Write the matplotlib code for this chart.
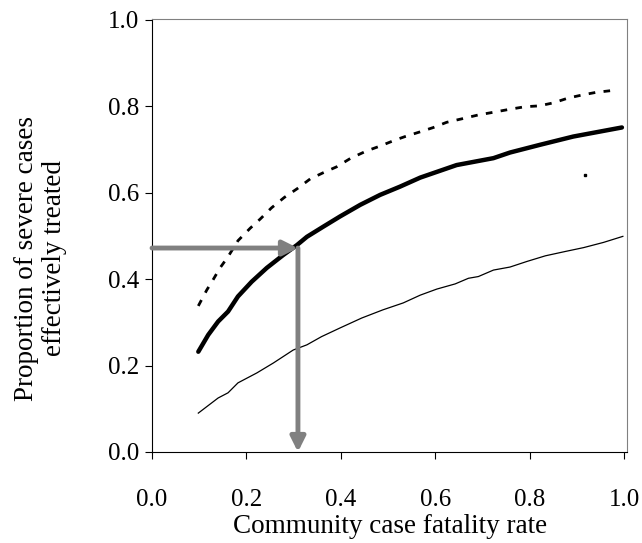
import matplotlib
matplotlib.use("Agg")
import matplotlib.pyplot as plt

plt.rcParams['font.family'] = ['Liberation Serif', 'DejaVu Serif']

# upper dashed curve
x_upper = [0.098, 0.116, 0.129, 0.144, 0.161, 0.182, 0.208, 0.229, 0.253, 0.280,
           0.307, 0.335, 0.362, 0.391, 0.421, 0.455, 0.483, 0.515, 0.536, 0.568,
           0.596, 0.624, 0.656, 0.691, 0.727, 0.762, 0.790, 0.820, 0.850, 0.881,
           0.910, 0.939, 0.970]
y_upper = [0.338, 0.375, 0.398, 0.426, 0.452, 0.489, 0.518, 0.539, 0.565, 0.589,
           0.609, 0.632, 0.646, 0.660, 0.680, 0.697, 0.708, 0.722, 0.730, 0.741,
           0.751, 0.763, 0.771, 0.780, 0.787, 0.794, 0.799, 0.801, 0.808, 0.819,
           0.826, 0.832, 0.836]

# middle thick curve
x_mid = [0.098, 0.119, 0.140, 0.161, 0.182, 0.211, 0.243, 0.278, 0.307, 0.328,
         0.362, 0.398, 0.441, 0.483, 0.525, 0.568, 0.645, 0.723, 0.758, 0.822,
         0.892, 0.995]
y_mid = [0.232, 0.271, 0.302, 0.325, 0.360, 0.394, 0.426, 0.456, 0.479, 0.498,
         0.521, 0.545, 0.572, 0.595, 0.614, 0.635, 0.664, 0.680, 0.693, 0.711,
         0.730, 0.751]

# lower thin curve
x_low = [0.098, 0.140, 0.161, 0.182, 0.222, 0.257, 0.299, 0.328, 0.359, 0.398,
         0.444, 0.489, 0.532, 0.568, 0.603, 0.642, 0.670, 0.691, 0.723, 0.758,
         0.794, 0.833, 0.875, 0.914, 0.956, 0.997]
y_low = [0.090, 0.125, 0.137, 0.160, 0.183, 0.206, 0.236, 0.248, 0.267, 0.287,
         0.310, 0.329, 0.345, 0.363, 0.377, 0.389, 0.402, 0.406, 0.421, 0.428,
         0.441, 0.454, 0.464, 0.473, 0.485, 0.499]

stray_x, stray_y = [0.917], [0.641]

cfr_read = 0.309
treated_read = 0.472

ticks = [0.0, 0.2, 0.4, 0.6, 0.8, 1.0]
tick_labels = ['0.0', '0.2', '0.4', '0.6', '0.8', '1.0']

fig = plt.figure(figsize=(6.42, 5.43), dpi=100)
ax = fig.add_axes([0.2368, 0.1676, 0.74, 0.7974])

ax.plot(x_low, y_low, color='black', lw=0.9)
ax.plot(x_mid, y_mid, color='black', lw=3.2, solid_capstyle='round')
ax.plot(x_upper, y_upper, color='black', lw=2.0, linestyle=(0, (2.4, 3.0)))
ax.plot(stray_x, stray_y, 's', color='black', ms=1.5)

ax.annotate('', xy=(cfr_read, treated_read), xytext=(0, treated_read),
            arrowprops=dict(arrowstyle='-|>', color='#808080', lw=3.5,
                            mutation_scale=22, shrinkA=0, shrinkB=0))
ax.annotate('', xy=(cfr_read, 0.0), xytext=(cfr_read, treated_read),
            arrowprops=dict(arrowstyle='-|>', color='#808080', lw=3.5,
                            mutation_scale=22, shrinkA=0, shrinkB=0))

ax.set_xlim(0, 1.006)
ax.set_ylim(0, 1.002)
ax.set_xticks(ticks)
ax.set_yticks(ticks)
ax.set_xticklabels(tick_labels)
ax.set_yticklabels(tick_labels)
ax.tick_params(axis='x', direction='out', length=5, pad=22, labelsize=18)
ax.tick_params(axis='y', direction='out', length=5, pad=4, labelsize=18)

for s in ['top', 'right']:
    ax.spines[s].set_color('#808080')
for s in ['left', 'bottom']:
    ax.spines[s].set_color('black')

ax.set_xlabel('Community case fatality rate', fontsize=19.5, labelpad=2)
ax.set_ylabel('Proportion of severe cases\neffectively treated', fontsize=19.5,
              linespacing=1.15)
ax.yaxis.set_label_coords(-0.179, 0.448)

fig.savefig('out.png', dpi=100)
